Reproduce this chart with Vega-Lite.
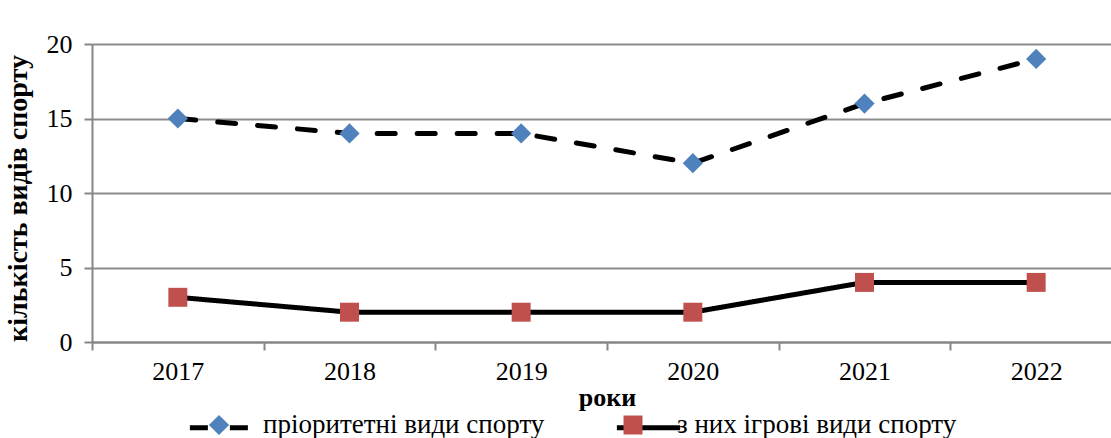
{
  "$schema": "https://vega.github.io/schema/vega-lite/v6.json",
  "width": 1030,
  "height": 298,
  "autosize": {"type": "none"},
  "padding": {"left": 92, "top": 44, "right": 0, "bottom": 96},
  "background": "white",
  "config": {
    "font": "Liberation Serif",
    "view": {"stroke": null},
    "axis": {"labelFont": "Liberation Serif", "titleFont": "Liberation Serif", "labelColor": "#000", "titleColor": "#000"},
    "legend": {"labelFont": "Liberation Serif", "labelColor": "#000", "labelLimit": 500}
  },
  "data": {
    "values": [
      {"year": "2017", "series": "пріоритетні види спорту", "value": 15},
      {"year": "2018", "series": "пріоритетні види спорту", "value": 14},
      {"year": "2019", "series": "пріоритетні види спорту", "value": 14},
      {"year": "2020", "series": "пріоритетні види спорту", "value": 12},
      {"year": "2021", "series": "пріоритетні види спорту", "value": 16},
      {"year": "2022", "series": "пріоритетні види спорту", "value": 19},
      {"year": "2017", "series": "з них ігрові види спорту", "value": 3},
      {"year": "2018", "series": "з них ігрові види спорту", "value": 2},
      {"year": "2019", "series": "з них ігрові види спорту", "value": 2},
      {"year": "2020", "series": "з них ігрові види спорту", "value": 2},
      {"year": "2021", "series": "з них ігрові види спорту", "value": 4},
      {"year": "2022", "series": "з них ігрові види спорту", "value": 4}
    ]
  },
  "encoding": {
    "x": {
      "field": "year", "type": "nominal",
      "scale": {"type": "band", "paddingInner": 0, "paddingOuter": 0},
      "axis": {
        "title": "роки", "titleFontSize": 26, "titleFontWeight": "bold", "titlePadding": 0,
        "labelFontSize": 26, "labelAngle": 0, "labelPadding": 8,
        "tickBand": "extent", "tickSize": 8, "tickColor": "#868686", "tickWidth": 2,
        "domainColor": "#868686", "domainWidth": 2, "grid": false
      }
    },
    "y": {
      "field": "value", "type": "quantitative",
      "scale": {"domain": [0, 20], "nice": false},
      "axis": {
        "title": "кількість видів спорту", "titleFontSize": 28, "titleFontWeight": "bold", "titlePadding": 14, "titleY": 154,
        "values": [0, 5, 10, 15, 20], "labelFontSize": 26, "labelPadding": 12,
        "tickSize": 8, "tickColor": "#868686", "tickWidth": 2,
        "domainColor": "#868686", "domainWidth": 2,
        "grid": true, "gridColor": "#8c8c8c", "gridWidth": 2
      }
    }
  },
  "layer": [
    {
      "mark": {"type": "line", "strokeWidth": 5, "strokeCap": "round"},
      "encoding": {
        "stroke": {
          "field": "series", "type": "nominal", "sort": "descending",
          "scale": {"range": ["#000000", "#000000"]},
          "legend": {
            "title": null, "orient": "none", "legendX": 95, "legendY": 349, "direction": "horizontal",
            "symbolType": "M-1,0H1", "symbolSize": 4000, "symbolStrokeWidth": 5, "symbolDash": [1, 0],
            "labelFont": "Liberation Serif", "labelFontSize": 27, "labelOffset": 12, "columnPadding": 56, "padding": 0,
            "labelOpacity": 0
          }
        },
        "strokeDash": {
          "field": "series", "type": "nominal", "sort": "descending",
          "scale": {"range": [[18, 22], [1, 0]]},
          "legend": null
        }
      }
    },
    {
      "mark": {"type": "point", "filled": true, "size": 4000, "opacity": 1, "strokeWidth": 0},
      "encoding": {
        "fill": {
          "field": "series", "type": "nominal",
          "scale": {"domain": ["пріоритетні види спорту", "з них ігрові види спорту"], "range": ["#4F81BD", "#C0504D"]},
          "legend": {
            "title": null, "orient": "none", "legendX": 95, "legendY": 349, "direction": "horizontal",
            "symbolSize": 4000, "symbolStrokeWidth": 0,
            "labelFont": "Liberation Serif", "labelFontSize": 27, "labelOffset": 12, "columnPadding": 56, "padding": 0
          }
        },
        "shape": {
          "field": "series", "type": "nominal",
          "scale": {"domain": ["пріоритетні види спорту", "з них ігрові види спорту"], "range": ["M0,-0.32L0.32,0L0,0.32L-0.32,0Z", "M-0.3,-0.3H0.3V0.3H-0.3Z"]},
          "legend": {
            "title": null, "orient": "none", "legendX": 95, "legendY": 349, "direction": "horizontal",
            "symbolSize": 4000, "symbolStrokeWidth": 0,
            "labelFont": "Liberation Serif", "labelFontSize": 27, "labelOffset": 12, "columnPadding": 56, "padding": 0
          }
        }
      }
    }
  ]
}
